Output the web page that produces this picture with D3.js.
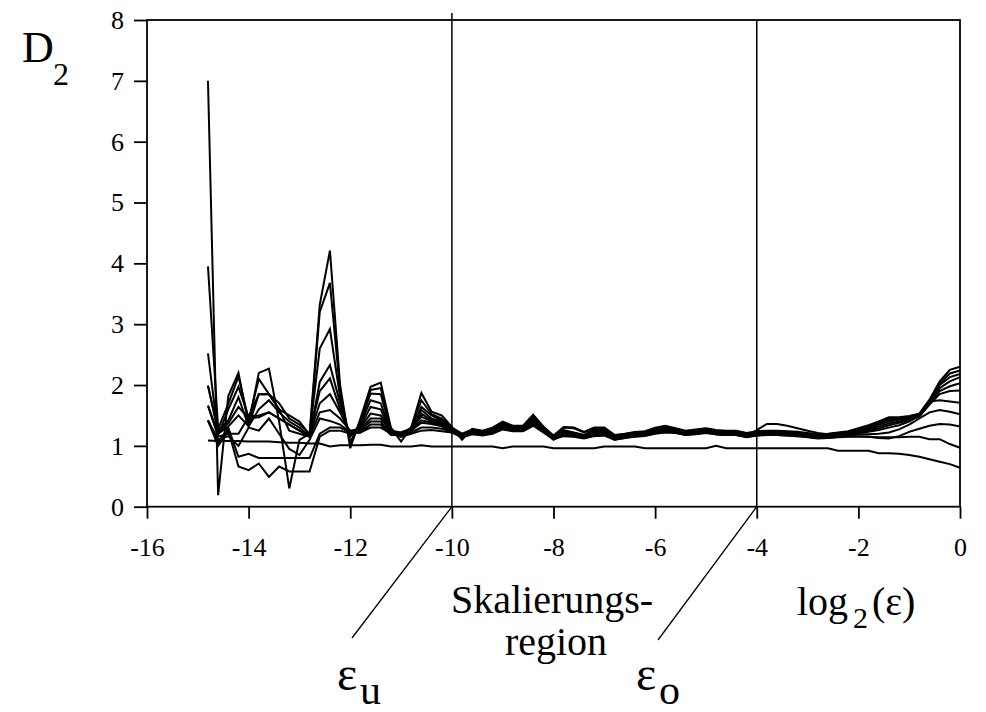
<!DOCTYPE html>
<meta charset="utf-8">

<!-- Load d3.js -->
<script src="https://cdnjs.cloudflare.com/ajax/libs/d3/7.8.5/d3.min.js"></script>

<style>
  body { margin: 0; background: #fff; }
  text { font-family: "Liberation Serif", "Times New Roman", Times, serif; }
</style>

<div id="chart"></div>

<script>

  // log2(eps) grid
  const logEps = [-14.8, -14.6, -14.4, -14.2, -14.0, -13.8, -13.6, -13.4, -13.2, -13.0,
    -12.8, -12.6, -12.4, -12.2, -12.0, -11.8, -11.6, -11.4, -11.2, -11.0,
    -10.8, -10.6, -10.4, -10.2, -10.0, -9.8, -9.6, -9.4, -9.2, -9.0,
    -8.8, -8.6, -8.4, -8.2, -8.0, -7.8, -7.6, -7.4, -7.2, -7.0,
    -6.8, -6.6, -6.4, -6.2, -6.0, -5.8, -5.6, -5.4, -5.2, -5.0,
    -4.8, -4.6, -4.4, -4.2, -4.0, -3.8, -3.6, -3.4, -3.2, -3.0,
    -2.8, -2.6, -2.4, -2.2, -2.0, -1.8, -1.6, -1.4, -1.2, -1.0,
    -0.8, -0.6, -0.4, -0.2, 0]

  // D2 estimates, one array per embedding dimension
  const m1 = [1.09, 1.08, 1.08, 1.08, 1.07, 1.07, 1.07, 1.06, 1.05, 1.05, 1.04, 1.04, 0.99, 1.01, 1.01, 1.01, 1.02, 1.02, 0.99, 0.99, 0.99, 1.01, 0.99, 0.99,
    0.99, 0.99, 0.99, 0.99, 0.99, 0.96, 0.99, 0.99, 0.99, 0.99, 0.96, 0.96, 0.96, 0.96, 0.96, 0.99, 0.99, 0.99, 0.99, 0.96, 0.96, 0.96, 0.96, 0.96, 0.96, 0.96,
    1.00, 0.96, 0.96, 0.96, 0.96, 0.96, 0.96, 0.96, 0.96, 0.96, 0.96, 0.96, 0.92, 0.92,
    0.92, 0.92, 0.88, 0.88, 0.87, 0.85, 0.82, 0.78, 0.74, 0.70, 0.64]
  const m2 = [1.42, 1.00, 1.25, 0.66, 0.60, 0.71, 0.49, 0.66, 0.58, 0.58, 0.58, 1.15, 1.25, 1.25, 1.20, 1.22, 1.30, 1.30, 1.20, 1.15, 1.20, 1.25, 1.26, 1.24,
    1.22, 1.14, 1.19, 1.17, 1.20, 1.27, 1.24, 1.24, 1.33, 1.22, 1.11, 1.16, 1.15, 1.12, 1.16, 1.17, 1.10, 1.13, 1.15, 1.16,
    1.20, 1.22, 1.21, 1.18, 1.19, 1.21, 1.19, 1.18, 1.18, 1.15, 1.17, 1.18, 1.18, 1.17, 1.16, 1.15, 1.13, 1.13, 1.14, 1.15,
    1.15, 1.15, 1.14, 1.14, 1.14, 1.15, 1.15, 1.11, 1.11, 1.03, 0.97]
  const m3 = [1.42, 1.05, 1.30, 0.82, 0.87, 0.80, 0.80, 0.80, 0.80, 0.80, 0.80, 1.20, 1.30, 1.30, 1.22, 1.22, 1.35, 1.35, 1.18, 1.18, 1.22, 1.30, 1.30, 1.28,
    1.23, 1.15, 1.20, 1.18, 1.21, 1.28, 1.25, 1.25, 1.35, 1.23, 1.12, 1.17, 1.16, 1.13, 1.17, 1.18, 1.11, 1.14, 1.16, 1.17,
    1.21, 1.23, 1.22, 1.19, 1.20, 1.22, 1.19, 1.18, 1.18, 1.15, 1.26, 1.36, 1.36, 1.33, 1.29, 1.25, 1.21, 1.19, 1.17, 1.16,
    1.16, 1.15, 1.13, 1.12, 1.16, 1.23, 1.28, 1.33, 1.36, 1.35, 1.32]
  const m4 = [1.42, 1.10, 1.16, 1.00, 1.30, 1.25, 1.45, 1.20, 0.95, 0.85, 1.10, 1.45, 1.41, 1.35, 1.22, 1.25, 1.40, 1.40, 1.20, 1.18, 1.25, 1.38, 1.36, 1.32,
    1.24, 1.14, 1.21, 1.18, 1.22, 1.30, 1.26, 1.26, 1.39, 1.24, 1.10, 1.19, 1.17, 1.13, 1.19, 1.19, 1.10, 1.13, 1.16, 1.17,
    1.22, 1.24, 1.22, 1.18, 1.20, 1.22, 1.19, 1.18, 1.18, 1.14, 1.17, 1.18, 1.18, 1.17, 1.16, 1.14, 1.12, 1.13, 1.15, 1.17,
    1.19, 1.19, 1.20, 1.22, 1.27, 1.35, 1.45, 1.55, 1.59, 1.56, 1.52]
  const m5 = [1.66, 1.15, 1.20, 1.20, 1.48, 1.50, 1.55, 1.45, 1.35, 1.25, 1.15, 1.55, 1.59, 1.45, 1.25, 1.28, 1.45, 1.45, 1.25, 1.20, 1.26, 1.42, 1.38, 1.34,
    1.25, 1.15, 1.22, 1.19, 1.23, 1.31, 1.27, 1.27, 1.40, 1.25, 1.11, 1.20, 1.18, 1.14, 1.20, 1.20, 1.11, 1.14, 1.17, 1.18,
    1.23, 1.25, 1.23, 1.19, 1.21, 1.23, 1.20, 1.19, 1.19, 1.15, 1.18, 1.19, 1.19, 1.18, 1.17, 1.15, 1.13, 1.14, 1.16, 1.18,
    1.21, 1.23, 1.26, 1.30, 1.34, 1.40, 1.50, 1.73, 1.75, 1.73, 1.71]
  const m6 = [1.66, 1.20, 1.32, 1.50, 1.32, 1.85, 1.85, 1.60, 1.50, 1.40, 1.18, 1.70, 1.85, 1.55, 1.20, 1.30, 1.53, 1.50, 1.22, 1.20, 1.27, 1.48, 1.40, 1.36,
    1.26, 1.16, 1.23, 1.20, 1.24, 1.32, 1.28, 1.28, 1.41, 1.26, 1.12, 1.21, 1.19, 1.15, 1.21, 1.21, 1.12, 1.15, 1.18, 1.19,
    1.24, 1.26, 1.24, 1.20, 1.22, 1.24, 1.21, 1.20, 1.20, 1.16, 1.19, 1.20, 1.20, 1.19, 1.18, 1.16, 1.14, 1.15, 1.17, 1.19,
    1.22, 1.25, 1.29, 1.34, 1.38, 1.42, 1.48, 1.68, 1.85, 1.90, 1.91]
  const m7 = [1.99, 1.22, 1.37, 1.64, 1.45, 1.47, 1.55, 1.45, 1.35, 1.25, 1.20, 1.90, 2.11, 1.60, 1.20, 1.32, 1.64, 1.60, 1.20, 1.22, 1.28, 1.53, 1.42, 1.38,
    1.27, 1.17, 1.24, 1.21, 1.25, 1.33, 1.29, 1.29, 1.43, 1.27, 1.13, 1.22, 1.20, 1.16, 1.22, 1.22, 1.13, 1.16, 1.19, 1.20,
    1.25, 1.27, 1.25, 1.21, 1.23, 1.25, 1.22, 1.21, 1.21, 1.17, 1.20, 1.21, 1.21, 1.20, 1.19, 1.17, 1.15, 1.16, 1.18, 1.20,
    1.23, 1.27, 1.32, 1.37, 1.40, 1.44, 1.49, 1.70, 1.90, 1.98, 2.03]
  const m8 = [1.99, 1.25, 1.42, 1.80, 1.32, 1.60, 1.75, 1.55, 1.40, 1.30, 1.15, 2.05, 2.33, 1.70, 1.15, 1.35, 1.75, 1.70, 1.22, 1.20, 1.30, 1.59, 1.45, 1.40,
    1.28, 1.18, 1.25, 1.22, 1.26, 1.34, 1.30, 1.30, 1.45, 1.28, 1.14, 1.24, 1.21, 1.17, 1.24, 1.24, 1.14, 1.17, 1.20, 1.21,
    1.26, 1.28, 1.26, 1.22, 1.24, 1.26, 1.23, 1.22, 1.22, 1.18, 1.21, 1.22, 1.22, 1.21, 1.20, 1.18, 1.16, 1.17, 1.19, 1.21,
    1.24, 1.29, 1.35, 1.40, 1.43, 1.46, 1.50, 1.72, 1.95, 2.06, 2.13]
  const m9 = [2.52, 1.18, 1.60, 1.97, 1.47, 1.85, 1.85, 1.70, 1.45, 1.35, 1.20, 2.60, 2.92, 1.80, 1.05, 1.38, 1.86, 1.85, 1.25, 1.22, 1.28, 1.64, 1.50, 1.42,
    1.29, 1.19, 1.26, 1.23, 1.27, 1.36, 1.31, 1.31, 1.47, 1.29, 1.15, 1.26, 1.22, 1.18, 1.26, 1.26, 1.15, 1.18, 1.21, 1.22,
    1.27, 1.30, 1.27, 1.23, 1.25, 1.27, 1.24, 1.23, 1.23, 1.19, 1.22, 1.23, 1.23, 1.22, 1.21, 1.19, 1.17, 1.18, 1.20, 1.22,
    1.26, 1.31, 1.38, 1.43, 1.45, 1.47, 1.51, 1.74, 2.00, 2.13, 2.18]
  const m10 = [3.95, 1.28, 1.69, 2.14, 1.42, 2.10, 1.85, 1.60, 1.25, 1.20, 1.15, 3.20, 3.68, 1.90, 1.05, 1.40, 1.92, 1.95, 1.28, 1.15, 1.30, 1.75, 1.52, 1.45,
    1.30, 1.20, 1.27, 1.24, 1.28, 1.37, 1.32, 1.32, 1.49, 1.30, 1.16, 1.30, 1.29, 1.22, 1.28, 1.28, 1.16, 1.19, 1.22, 1.23,
    1.28, 1.31, 1.28, 1.24, 1.26, 1.28, 1.25, 1.24, 1.24, 1.20, 1.23, 1.24, 1.24, 1.23, 1.22, 1.20, 1.18, 1.19, 1.21, 1.23,
    1.27, 1.32, 1.39, 1.45, 1.46, 1.48, 1.52, 1.75, 2.03, 2.19, 2.24]
  const m11 = [7.00, 0.19, 1.82, 2.20, 1.35, 2.20, 2.27, 1.40, 0.30, 1.10, 1.20, 3.32, 4.21, 2.00, 0.96, 1.45, 1.97, 2.04, 1.30, 1.07, 1.30, 1.87, 1.56, 1.50,
    1.31, 1.10, 1.28, 1.25, 1.30, 1.40, 1.33, 1.33, 1.51, 1.32, 1.17, 1.31, 1.30, 1.23, 1.30, 1.30, 1.18, 1.20, 1.23, 1.24,
    1.30, 1.33, 1.29, 1.25, 1.27, 1.29, 1.26, 1.25, 1.25, 1.21, 1.24, 1.25, 1.25, 1.24, 1.23, 1.21, 1.19, 1.20, 1.22, 1.24,
    1.29, 1.34, 1.40, 1.47, 1.47, 1.49, 1.53, 1.76, 2.06, 2.25, 2.30]

  const series = [m1, m2, m3, m4, m5, m6, m7, m8, m9, m10, m11]

  const xTicks = [-16, -14, -12, -10, -8, -6, -4, -2, 0]
  const yTicks = [0, 1, 2, 3, 4, 5, 6, 7, 8]
  const epsLower = -10   // eps_u
  const epsUpper = -4    // eps_o

  const W = 986
  const H = 712
  const plot = { left: 147, right: 960, top: 20, bottom: 506.7 }
  const serif = '"Liberation Serif", "Times New Roman", Times, serif'

  const svg = d3.select('#chart').
    append('svg').
    attr('width', W).
    attr('height', H).
    attr('font-family', serif)

  const x = d3.scaleLinear().domain([-16, 0]).range([plot.left, plot.right])
  const y = d3.scaleLinear().domain([0, 8]).range([plot.bottom, plot.top])

  // Y axis
  const yAxis = svg.append('g').
    attr('transform', 'translate(' + plot.left + ',0)').
    call(d3.axisLeft(y).tickValues(yTicks).tickSize(13).tickPadding(10).tickFormat(d => String(d)))
  yAxis.select('.domain').remove()

  // X axis
  const xAxis = svg.append('g').
    attr('transform', 'translate(0,' + plot.bottom + ')').
    call(d3.axisBottom(x).tickValues(xTicks).tickSize(12).tickPadding(19).tickFormat(d => String(d)))
  xAxis.select('.domain').remove()

  svg.selectAll('.tick line').attr('stroke', '#000').attr('stroke-width', 1.8)
  svg.selectAll('.tick text').
    attr('fill', '#000').
    attr('font-size', 26).
    attr('font-family', serif)

  // frame
  svg.append('rect').
    attr('x', plot.left).
    attr('y', plot.top).
    attr('width', plot.right - plot.left).
    attr('height', plot.bottom - plot.top).
    attr('fill', 'none').
    attr('stroke', '#000').
    attr('stroke-width', 1.8)

  // scaling region bounds
  svg.append('line').
    attr('x1', x(epsLower)).attr('x2', x(epsLower)).
    attr('y1', plot.top - 7).attr('y2', plot.bottom).
    attr('stroke', '#000').attr('stroke-width', 1.5)
  svg.append('line').
    attr('x1', x(epsUpper)).attr('x2', x(epsUpper)).
    attr('y1', plot.top).attr('y2', plot.bottom).
    attr('stroke', '#000').attr('stroke-width', 1.5)

  // curves
  const line = d3.line().
    x((d, i) => x(logEps[i])).
    y(d => y(d))

  svg.append('g').
    selectAll('path').
    data(series).
    join('path').
    attr('fill', 'none').
    attr('stroke', '#000').
    attr('stroke-width', 2).
    attr('stroke-linejoin', 'miter').
    attr('d', line)

  // pointer lines to the eps labels
  svg.append('line').
    attr('x1', x(epsLower)).attr('y1', plot.bottom).
    attr('x2', 352).attr('y2', 638).
    attr('stroke', '#000').attr('stroke-width', 1.3)
  svg.append('line').
    attr('x1', x(epsUpper)).attr('y1', plot.bottom).
    attr('x2', 658).attr('y2', 640).
    attr('stroke', '#000').attr('stroke-width', 1.3)

  // labels
  const label = (txt, px, py, size, anchor) => svg.append('text').
    attr('x', px).attr('y', py).
    attr('font-size', size).
    attr('text-anchor', anchor || 'start').
    text(txt)

  label('D', 22, 62, 44)
  label('2', 53, 85, 32)

  label('Skalierungs-', 552, 613, 40, 'middle')
  label('region', 556, 655, 40, 'middle')

  label('log', 797, 615, 40)
  label('2', 853, 628, 30)
  label('(ε)', 872, 615, 40)

  label('ε', 337, 690, 48)
  label('u', 360, 704, 42)
  label('ε', 636, 690, 48)
  label('o', 659, 704, 42)

</script>
